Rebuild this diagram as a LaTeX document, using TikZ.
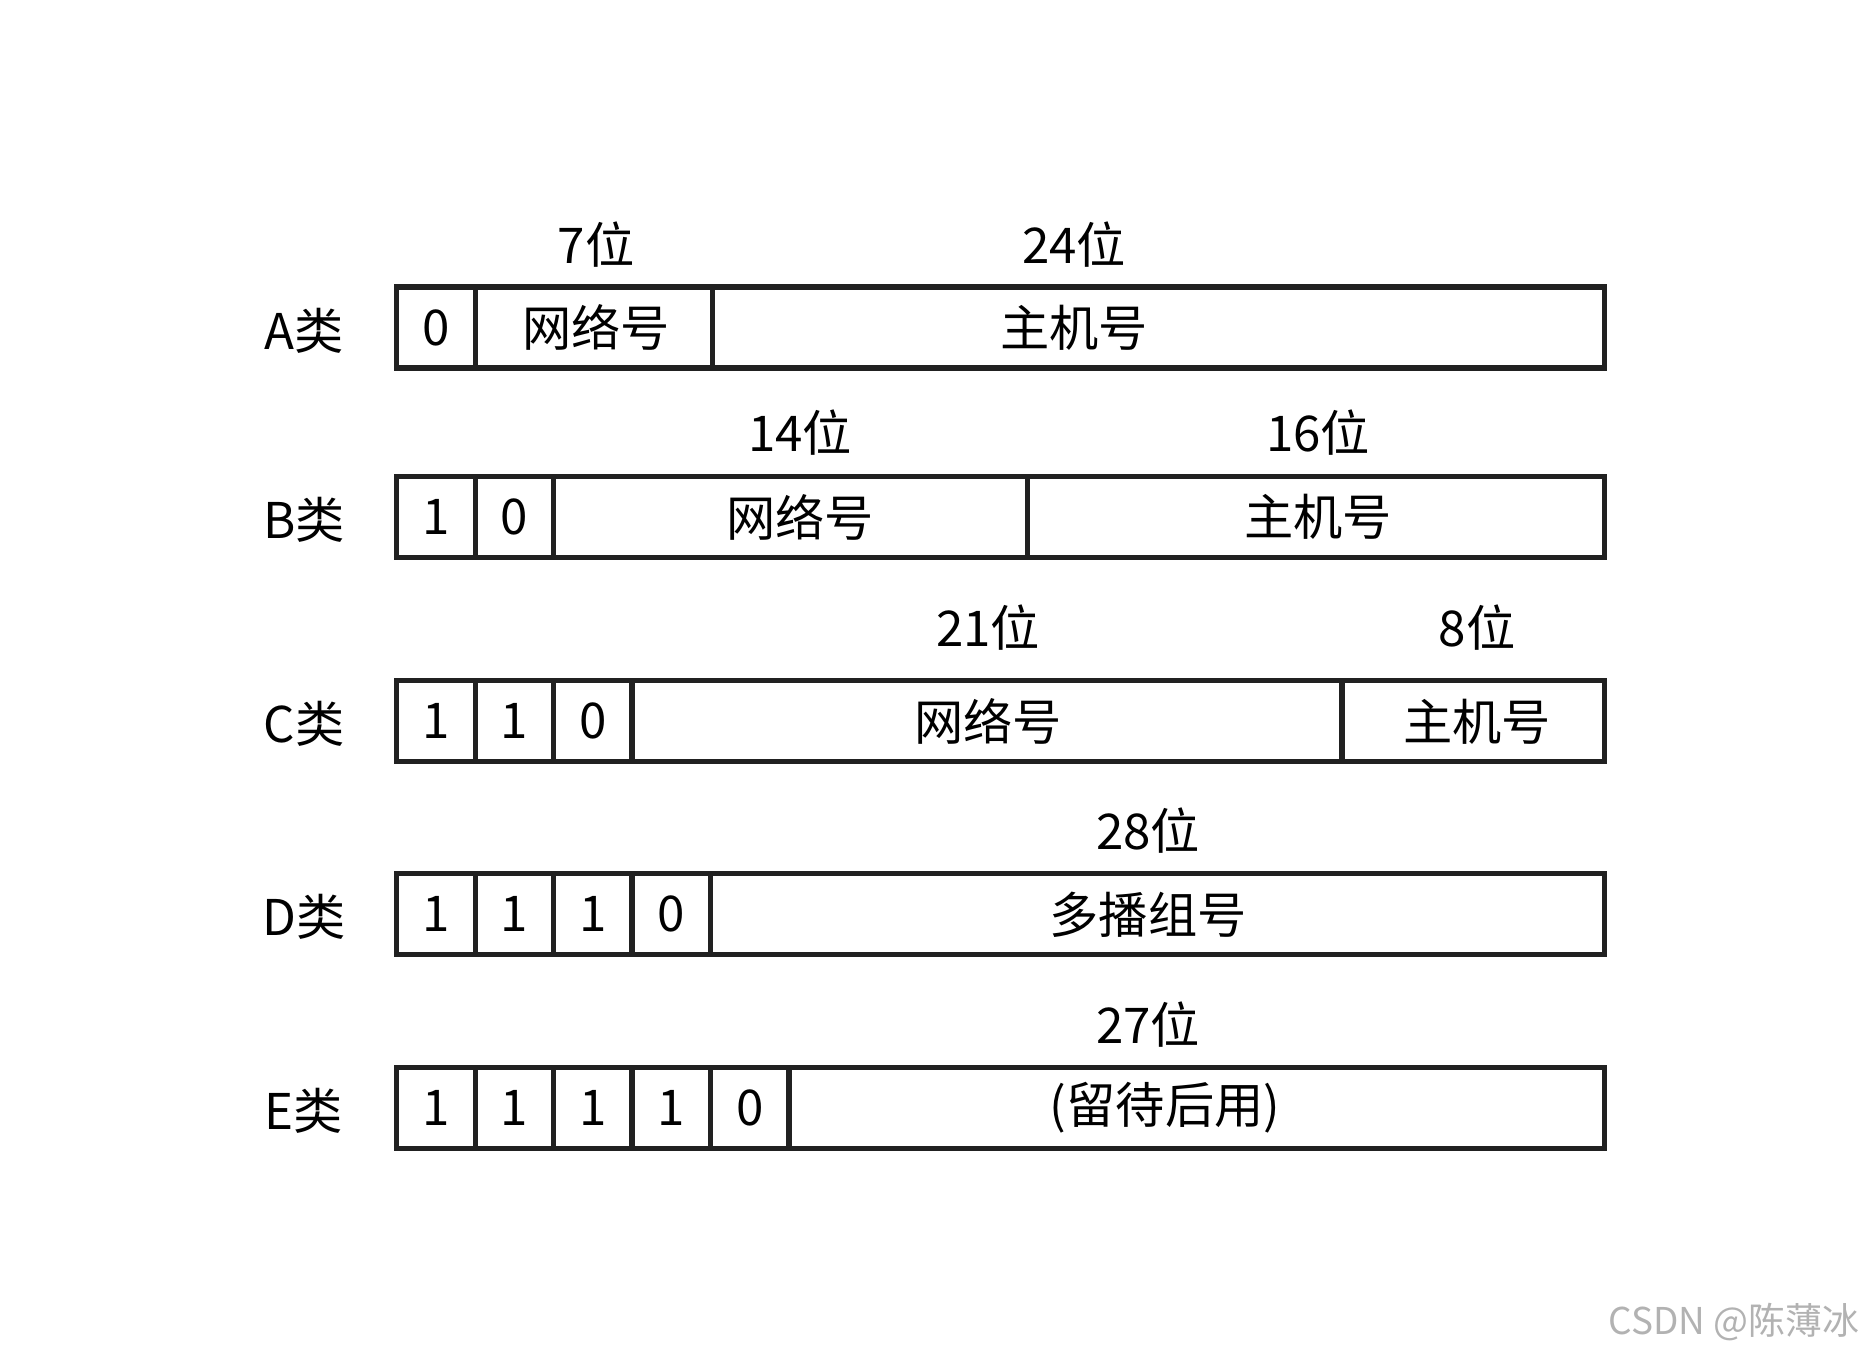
\documentclass[tikz,border=0pt]{standalone}
\usepackage{fontspec}
\setmainfont{Noto Sans CJK SC}
\usetikzlibrary{positioning}

\begin{document}
\begin{tikzpicture}[
  x=0.01cm,y=-0.01cm,
  font=\fontsize{14pt}{16pt}\selectfont,
  field/.style={draw=black!87,line width=1.5pt,minimum height=0.81cm,inner sep=0pt,outer sep=0pt,anchor=west},
  bit/.style={field,minimum width=0.784cm},
  watermark/.style={anchor=east,inner sep=0pt,text=black!30,font=\fontsize{10.5pt}{12pt}\selectfont}
]
  \useasboundingbox (0,0) rectangle (1868,1355);

  % A
  \node (acls) at (304,331) {A类};
  \node[bit] (a1) at (396.7,327.6) {0};
  \node[field,minimum width=2.373cm,right=0pt of a1] (anet) {};
  \node[field,minimum width=8.913cm,right=0pt of anet] (ahost) {};
  \node (anettxt) at (596,327.6) {网络号};
  \node (anetlen) at (596,244.2) {7位};
  \node (ahosttxt) at (1074,327.6) {主机号};
  \node (ahostlen) at (1074,244.2) {24位};

  % B
  \node (bcls) at (304,520) {B类};
  \node[bit] (b1) at (396.7,517) {1};
  \node[bit,right=0pt of b1] (b2) {0};
  \node[field,minimum width=4.734cm,right=0pt of b2] (bnet) {};
  \node[field,minimum width=5.768cm,right=0pt of bnet] (bhost) {};
  \node (bnettxt) at (800,517) {网络号};
  \node (bnetlen) at (800,432.4) {14位};
  \node (bhosttxt) at (1318,517) {主机号};
  \node (bhostlen) at (1318,432.4) {16位};

  % C
  \node (ccls) at (304,724) {C类};
  \node[bit] (c1) at (396.7,721.3) {1};
  \node[bit,right=0pt of c1] (c2) {1};
  \node[bit,right=0pt of c2] (c3) {0};
  \node[field,minimum width=7.095cm,right=0pt of c3] (cnet) {};
  \node[field,minimum width=2.623cm,right=0pt of cnet] (chost) {};
  \node (cnettxt) at (988,721.3) {网络号};
  \node (cnetlen) at (988,627.8) {21位};
  \node (chosttxt) at (1477,721.3) {主机号};
  \node (chostlen) at (1477,627.8) {8位};

  % D
  \node (dcls) at (304,917) {D类};
  \node[bit] (d1) at (396.7,914.3) {1};
  \node[bit,right=0pt of d1] (d2) {1};
  \node[bit,right=0pt of d2] (d3) {1};
  \node[bit,right=0pt of d3] (d4) {0};
  \node[field,minimum width=8.934cm,right=0pt of d4] (dgrp) {};
  \node (dgrptxt) at (1148,914.3) {多播组号};
  \node (dgrplen) at (1148,830.3) {28位};

  % E
  \node (ecls) at (304,1111) {E类};
  \node[bit] (e1) at (396.7,1107.9) {1};
  \node[bit,right=0pt of e1] (e2) {1};
  \node[bit,right=0pt of e2] (e3) {1};
  \node[bit,right=0pt of e3] (e4) {1};
  \node[bit,right=0pt of e4] (e5) {0};
  \node[field,minimum width=8.15cm,right=0pt of e5] (eres) {};
  \node (erestxt) at (1165,1107.9) {(留待后用)};
  \node (ereslen) at (1148,1024.5) {27位};

  \node[watermark] (wm) at (1860,1322) {CSDN @陈薄冰};
\end{tikzpicture}
\end{document}
